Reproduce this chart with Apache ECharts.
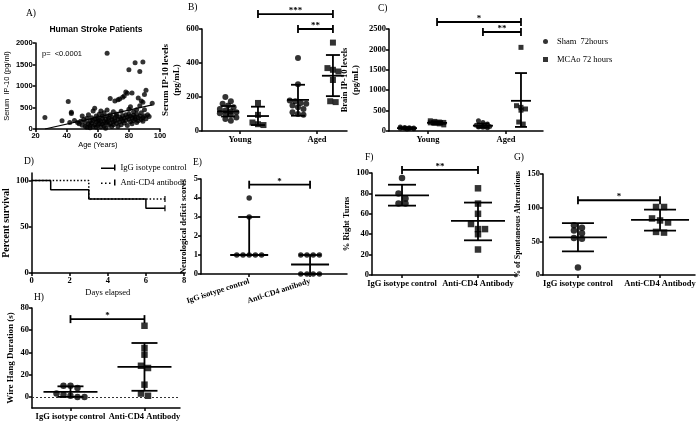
<!DOCTYPE html>
<html><head><meta charset="utf-8">
<script src="https://cdn.jsdelivr.net/npm/echarts@6/dist/echarts.min.js"></script>
<style>html,body{margin:0;padding:0;background:#fff}#c{width:700px;height:425px}</style>
</head><body><div id="c"></div>
<script>
// ---------- DATA ----------
// A) Human stroke patients: age vs serum IP-10
const ageYears = [26,37,41,42,43,43,45,47,48,49,50,50,51,52,52,53,53,54,54,55,55,55,56,56,57,57,57,58,58,58,59,59,59,60,60,60,61,61,61,62,62,62,63,63,63,64,64,64,65,65,65,66,66,66,66,67,67,67,68,68,68,69,69,69,70,70,70,71,71,71,72,72,72,73,73,73,74,74,74,75,75,75,76,76,76,77,77,77,78,78,78,79,79,79,80,80,80,80,81,81,81,82,82,82,83,83,83,84,84,84,85,85,85,86,86,86,87,87,87,88,88,88,89,89,89,89,90,90,90,91,91,92,93,95];
const serumIP10 = [270,190,640,150,390,360,200,150,120,180,300,90,220,60,150,250,40,120,330,180,80,30,260,140,200,60,420,480,100,230,160,300,40,190,260,80,120,350,210,420,50,170,250,300,110,180,70,380,230,140,20,1760,300,160,440,90,250,200,130,330,710,60,220,280,170,400,100,260,190,650,300,130,350,680,220,60,700,280,160,240,410,100,740,310,190,770,250,140,860,330,200,830,280,80,1380,350,230,460,170,300,520,840,260,120,400,200,320,1540,280,230,450,150,350,720,260,190,1340,300,540,650,220,380,1560,620,270,180,800,300,450,900,240,330,290,600];
const trendAge = [26, 95];
const trendIP10 = [0, 560];
const axisA_x = {min:20, max:100, step:20};
const axisA_y = {min:0, max:2000, step:500};

// B) Serum IP-10 (pg/mL), Young / Aged, Sham vs MCAo
const ageGroups = ['Young', 'Aged'];
const legendNames = ['Sham  72hours', 'MCAo 72 hours'];
const bYoungSham = [200,175,160,150,140,130,120,115,110,105,100,95,80,70,60];
const bYoungMCAo = [165,95,50,40,35];
const bAgedSham = [430,275,180,175,165,160,150,140,130,110,100,95];
const bAgedMCAo = [520,370,360,350,300,175,170];
const bCenter = [115, 88, 183, 325];
const bLow = [85, 35, 90, 205];
const bHigh = [147, 143, 272, 447];
const bSig = ['***', '**'];

// C) Brain IP-10 (pg/mL)
const cYoungSham = [95,85,80,75,70,65,60,55,50];
const cYoungMCAo = [250,235,220,210,200,190,175,150];
const cAgedSham = [250,210,170,140,130,120,110,100,90,80];
const cAgedMCAo = [2050,620,580,540,510,220,170];
const cCenter = [70, 200, 130, 740];
const cLow = [50, 160, 80, 100];
const cHigh = [90, 240, 185, 1420];
const cSig = ['*', '**'];

// D) Survival
const survNames = ['IgG isotype control', 'Anti-CD4 antibody'];
const iggDays = [0, 1, 3, 6, 7];
const iggSurvival = [100, 90, 80, 70, 70];
const cd4Days = [0, 3, 7];
const cd4Survival = [100, 80, 80];

// E-H) treatment groups
const treatLower = ['IgG isotype control', 'Anti-CD4 antibody'];
const treatUpper = ['IgG isotype control', 'Anti-CD4 Antibody'];
const eIgG = [4,3,1,1,1,1,1];
const eAnti = [1,1,1,1,0,0,0,0];
const eCenter = [1, 0.5], eLow = [1, 0], eHigh = [3, 1];
const fIgG = [95,80,75,70,70];
const fAnti = [85,70,60,50,45,45,40,25];
const fCenter = [78, 53], fLow = [68, 34], fHigh = [88.5, 71];
const gIgG = [74,70,66,62,55,54,11];
const gAnti = [101,101,84,81,78,64,63];
const gCenter = [56, 82], gLow = [35, 66], gHigh = [77, 97];
const hIgG = [10,10,8,3,2,1,0,0];
const hAnti = [64,44,38,28,26,11,3,1];
const hCenter = [4.5, 27], hLow = [0, 5.5], hHigh = [9.5, 48.5];

// ---------- LAYOUT / STYLE ----------
const SERIF = '"Liberation Serif","Times New Roman",serif';
const SANS = '"Liberation Sans",Arial,sans-serif';
const grids = [], xAxes = [], yAxes = [], series = [];
const plain = v => String(v);

function addGrid(b){ grids.push({left:b[0], top:b[1], width:b[2], height:b[3]}); return grids.length - 1; }
const lineSt = {color:'#000', width:1.5};

function yAxisOpt(gi, o){
  return {
    gridIndex: gi, type:'value', min:o.yMin, max:o.yMax, interval:o.yInterval,
    name:o.yName, nameLocation:'middle', nameGap:o.nameGap, nameRotate:90,
    nameTextStyle:{fontFamily:o.nameFont||SERIF, fontWeight:o.nameWeight||'bold', fontSize:o.nameSize||8.5, color:'#000', lineHeight:o.nameLH||11},
    axisLine:{show:true, onZero:false, lineStyle:lineSt},
    axisTick:{show:true, length:3, lineStyle:lineSt, customValues:o.yTicks},
    axisLabel:{color:'#000', fontFamily:o.font||SERIF, fontWeight:'bold', fontSize:o.labelSize||8.5, margin:3, customValues:o.yTicks, formatter:plain},
    splitLine:{show:false}
  };
}

// spread overlapping points sideways (GraphPad-style scatter dot plot)
function jitter(values, pxPerUnit, size, spacing, maxRow){
  const order = values.map((v,i)=>i).sort((a,b)=>values[b]-values[a]);
  const offs = new Array(values.length).fill(0);
  let cluster = [], anchor = null;
  const flush = () => cluster.forEach((k,j)=>{ offs[k] = (j - (cluster.length-1)/2) * spacing; });
  order.forEach(k => {
    if (anchor !== null && cluster.length < maxRow && (anchor - values[k]) * pxPerUnit < size * 0.8) cluster.push(k);
    else { flush(); cluster = [k]; anchor = values[k]; }
  });
  flush();
  return offs;
}

function dotPanel(o){
  const gi = addGrid(o.box);
  const labelPos = o.labelPos, labels = o.labels;
  xAxes.push({
    gridIndex: gi, type:'value', min:0, max:1,
    axisLine:{show:true, onZero:false, lineStyle:lineSt},
    axisTick:{show:true, length:3, lineStyle:lineSt, customValues:labelPos},
    axisLabel:{customValues:labelPos, color:'#000', fontFamily:SERIF, fontWeight:'bold', fontSize:o.xLabelSize||8.5,
      margin:o.xMargin||4, rotate:o.rotate||0,
      formatter: v => { const i = labelPos.findIndex(p => Math.abs(p - v) < 1e-6); return i >= 0 ? labels[i] : ''; }},
    splitLine:{show:false}
  });
  yAxes.push(yAxisOpt(gi, o));
  const pxPerUnit = o.box[3] / (o.yMax - o.yMin);
  o.groups.forEach(g => {
    const offs = jitter(g.values, pxPerUnit, o.size, o.spacing, o.maxRow || 4);
    series.push({
      type:'scatter', name:g.name, xAxisIndex:gi, yAxisIndex:gi, symbol:g.symbol, symbolSize:o.size,
      itemStyle:{color:'#000'}, silent:true, z:4,
      data: g.values.map((v,i)=>({value:[g.pos, v], symbolOffset:[offs[i], 0]}))
    });
  });
  const H = o.half, C = o.cap;
  series.push({
    type:'custom', xAxisIndex:gi, yAxisIndex:gi, clip:false, silent:true, z:5,
    data: o.groups.map((g,i)=>[g.pos, o.center[i], o.low[i], o.high[i]]),
    renderItem: (p, api) => {
      const c = api.coord([api.value(0), api.value(1)]);
      const lo = api.coord([api.value(0), api.value(2)]);
      const hi = api.coord([api.value(0), api.value(3)]);
      const st = {stroke:'#000', lineWidth:1.8};
      return {type:'group', children:[
        {type:'line', shape:{x1:c[0]-H, y1:c[1], x2:c[0]+H, y2:c[1]}, style:st},
        {type:'line', shape:{x1:c[0], y1:lo[1], x2:c[0], y2:hi[1]}, style:st},
        {type:'line', shape:{x1:c[0]-C, y1:lo[1], x2:c[0]+C, y2:lo[1]}, style:st},
        {type:'line', shape:{x1:c[0]-C, y1:hi[1], x2:c[0]+C, y2:hi[1]}, style:st}
      ]};
    }
  });
  if (o.brackets){
    series.push({
      type:'custom', xAxisIndex:gi, yAxisIndex:gi, clip:false, silent:true, z:5,
      data: o.brackets.map(b=>[b.from, b.to, b.y]),
      renderItem: (p, api) => {
        const a = api.coord([api.value(0), api.value(2)]);
        const b = api.coord([api.value(1), api.value(2)]);
        const st = {stroke:'#000', lineWidth:1.8};
        return {type:'group', children:[
          {type:'line', shape:{x1:a[0], y1:a[1], x2:b[0], y2:b[1]}, style:st},
          {type:'line', shape:{x1:a[0], y1:a[1]-4, x2:a[0], y2:a[1]+4}, style:st},
          {type:'line', shape:{x1:b[0], y1:b[1]-4, x2:b[0], y2:b[1]+4}, style:st},
          {type:'text', x:(a[0]+b[0])/2, y:a[1]+1, style:{text:o.brackets[p.dataIndex].text, fill:'#000',
            font:'bold 9px ' + SERIF, align:'center', verticalAlign:'bottom'}}
        ]};
      }
    });
  }
}

// ---- Panel A ----
(function(){
  const gi = addGrid([32, 43, 128, 86]);
  xAxes.push({gridIndex:gi, type:'value', min:axisA_x.min, max:axisA_x.max, interval:axisA_x.step,
    name:'Age (Years)', nameLocation:'middle', nameGap:11,
    nameTextStyle:{fontFamily:SANS, fontSize:7.5, color:'#000'},
    axisLine:{show:true, onZero:false, lineStyle:lineSt},
    axisTick:{show:true, length:3, lineStyle:lineSt},
    axisLabel:{color:'#000', fontFamily:SANS, fontWeight:'bold', fontSize:7.5, margin:3, formatter:plain},
    splitLine:{show:false}});
  yAxes.push(yAxisOpt(gi, {yMin:axisA_y.min, yMax:axisA_y.max, yInterval:axisA_y.step, yName:'Serum  IP-10 (pg/ml)',
    nameGap:20, nameFont:SANS, nameWeight:'normal', nameSize:7.5, font:SANS, labelSize:7.5}));
  series.push({type:'scatter', xAxisIndex:gi, yAxisIndex:gi, symbolSize:5, itemStyle:{color:'#000'}, silent:true,
    data: ageYears.map((a,i)=>[a, serumIP10[i]])});
  series.push({type:'line', xAxisIndex:gi, yAxisIndex:gi, symbol:'none', silent:true, lineStyle:{color:'#000', width:1.2},
    data: trendAge.map((a,i)=>[a, trendIP10[i]])});
})();

// ---- Panel B ----
dotPanel({box:[202, 29, 145, 102], yMin:0, yMax:600, yInterval:200, yName:'Serum IP-10 levels\n(pg/mL)', nameGap:13, nameSize:9,
  labels:ageGroups, labelPos:[0.262, 0.793], size:6, spacing:5.5, maxRow:4, half:11, cap:7,
  groups:[
    {values:bYoungSham, pos:0.18, symbol:'circle', name:legendNames[0]},
    {values:bYoungMCAo, pos:0.386, symbol:'rect', name:legendNames[1]},
    {values:bAgedSham, pos:0.662, symbol:'circle', name:legendNames[0]},
    {values:bAgedMCAo, pos:0.903, symbol:'rect', name:legendNames[1]}],
  center:bCenter, low:bLow, high:bHigh,
  brackets:[{from:0.386, to:0.903, y:688, text:bSig[0]}, {from:0.662, to:0.903, y:600, text:bSig[1]}]});

// ---- Panel C ----
dotPanel({box:[389, 29, 154, 102], yMin:0, yMax:2500, yInterval:500, yName:'Brain IP-10 levels\n(pg/mL)', nameGap:28, nameSize:8.5,
  labels:ageGroups, labelPos:[0.253, 0.76], size:5, spacing:4.5, maxRow:4, half:10, cap:6,
  groups:[
    {values:cYoungSham, pos:0.117, symbol:'circle', name:legendNames[0]},
    {values:cYoungMCAo, pos:0.312, symbol:'rect', name:legendNames[1]},
    {values:cAgedSham, pos:0.61, symbol:'circle', name:legendNames[0]},
    {values:cAgedMCAo, pos:0.857, symbol:'rect', name:legendNames[1]}],
  center:cCenter, low:cLow, high:cHigh,
  brackets:[{from:0.312, to:0.857, y:2671, text:cSig[0]}, {from:0.61, to:0.857, y:2426, text:cSig[1]}]});

// ---- Panel D ----
(function(){
  const gi = addGrid([31, 173, 153, 100]);
  xAxes.push({gridIndex:gi, type:'value', min:0, max:8, interval:2,
    name:'Days elapsed', nameLocation:'middle', nameGap:15,
    nameTextStyle:{fontFamily:SERIF, fontSize:8.5, color:'#000'},
    axisLine:{show:true, onZero:false, lineStyle:lineSt},
    axisTick:{show:true, length:3, lineStyle:lineSt},
    axisLabel:{color:'#000', fontFamily:SERIF, fontWeight:'bold', fontSize:8.5, margin:3},
    splitLine:{show:false}});
  yAxes.push(yAxisOpt(gi, {yMin:0, yMax:108, yTicks:[0,50,100], yName:'Percent survival', nameGap:18, nameSize:10}));
  series.push({type:'line', name:survNames[0], xAxisIndex:gi, yAxisIndex:gi, step:'end', symbol:'none', silent:true,
    lineStyle:{color:'#000', width:1.5, type:'solid'}, itemStyle:{color:'#000'},
    data: iggDays.map((d,i)=>[d, iggSurvival[i]])});
  series.push({type:'line', name:survNames[1], xAxisIndex:gi, yAxisIndex:gi, step:'end', symbol:'none', silent:true, z:1,
    lineStyle:{color:'#000', width:1.5, type:[1.5,2]}, itemStyle:{color:'#000'},
    data: cd4Days.map((d,i)=>[d, cd4Survival[i]])});
  series.push({type:'scatter', xAxisIndex:gi, yAxisIndex:gi, symbol:'rect', symbolSize:[1.5,6], silent:true, itemStyle:{color:'#000'},
    data:[[iggDays[iggDays.length-1], iggSurvival[iggSurvival.length-1]], [cd4Days[cd4Days.length-1], cd4Survival[cd4Survival.length-1]]]});
})();

// ---- Panel E ----
dotPanel({box:[201, 179, 146, 95], yMin:0, yMax:5, yInterval:1, yName:'Neurological deficit scores', nameGap:12, nameSize:8.5,
  labels:treatLower, labelPos:[0.33, 0.747], rotate:18, xLabelSize:8, xMargin:7, size:5.5, spacing:6.2, maxRow:5, half:19, cap:11,
  groups:[{values:eIgG, pos:0.33, symbol:'circle'}, {values:eAnti, pos:0.747, symbol:'circle'}],
  center:eCenter, low:eLow, high:eHigh,
  brackets:[{from:0.33, to:0.747, y:4.7, text:'*'}]});

// ---- Panel F ----
dotPanel({box:[372, 173, 145, 102], yMin:0, yMax:100, yInterval:20, yName:'% Right Turns', nameGap:20, nameSize:8.5,
  labels:treatUpper, labelPos:[0.207, 0.731], size:6.5, spacing:7, maxRow:3, half:27, cap:14,
  groups:[{values:fIgG, pos:0.207, symbol:'circle'}, {values:fAnti, pos:0.731, symbol:'rect'}],
  center:fCenter, low:fLow, high:fHigh,
  brackets:[{from:0.207, to:0.731, y:103, text:'**'}]});

// ---- Panel G ----
dotPanel({box:[543, 174, 152, 101], yMin:0, yMax:150, yInterval:50, yName:'% of Spontaneous Alternations', nameGap:20, nameSize:8,
  labels:treatUpper, labelPos:[0.23, 0.77], size:6.5, spacing:8, maxRow:3, half:29, cap:16,
  groups:[{values:gIgG, pos:0.23, symbol:'circle'}, {values:gAnti, pos:0.77, symbol:'rect'}],
  center:gCenter, low:gLow, high:gHigh,
  brackets:[{from:0.23, to:0.77, y:111, text:'*'}]});

// ---- Panel H ----
dotPanel({box:[32, 308, 148, 100], yMin:-10, yMax:80, yTicks:[0,20,40,60,80], yName:'Wire Hang Duration (s)', nameGap:16, nameSize:9,
  labels:treatUpper, labelPos:[0.26, 0.76], size:6.5, spacing:7, maxRow:5, half:27, cap:13,
  groups:[{values:hIgG, pos:0.26, symbol:'circle'}, {values:hAnti, pos:0.76, symbol:'rect'}],
  center:hCenter, low:hLow, high:hHigh,
  brackets:[{from:0.26, to:0.76, y:70, text:'*'}]});
series[series.length-4].markLine = {silent:true, symbol:'none', label:{show:false},
  lineStyle:{color:'#333', type:[2,2], width:1}, data:[{yAxis:0}]};

// ---------- TEXT ----------
function txt(x, y, text, font, align){ return {type:'text', x:x, y:y, style:{text:text, font:font, fill:'#000', align:align||'left', verticalAlign:'middle'}}; }
const panelFont = '9.5px ' + SERIF;
const graphic = [
  txt(26, 13, 'A)', panelFont), txt(188, 7, 'B)', panelFont), txt(378, 8, 'C)', panelFont),
  txt(24, 161, 'D)', panelFont), txt(193, 162, 'E)', panelFont), txt(365, 157, 'F)', panelFont),
  txt(514, 157, 'G)', panelFont), txt(34, 297, 'H)', panelFont),
  txt(96, 30, 'Human Stroke Patients', 'bold 8.5px ' + SANS, 'center'),
  txt(42, 54, 'p=  <0.0001', '7.5px ' + SANS)
];

const iconSolid = 'path://M0,3h14v1.5h-14z M13,0h1.5v6h-1.5z';
const iconDotted = 'path://M0,3h1.5v1.5h-1.5z M4,3h1.5v1.5h-1.5z M8,3h1.5v1.5h-1.5z M13,0h1.5v6h-1.5z';

const chart = echarts.init(document.getElementById('c'), null, {renderer:'canvas'});
chart.setOption({
  animation:false, backgroundColor:'#fff',
  grid:grids, xAxis:xAxes, yAxis:yAxes, series:series, graphic:graphic,
  legend:[
    {data:[{name:legendNames[0], icon:'circle'}, {name:legendNames[1], icon:'rect'}], orient:'vertical', left:538, top:32,
      itemWidth:5, itemHeight:5, itemGap:9, selectedMode:false, textStyle:{fontFamily:SERIF, fontSize:8.5, color:'#000', padding:[0,0,0,4]}},
    {data:[{name:survNames[0], icon:iconSolid}, {name:survNames[1], icon:iconDotted}], orient:'vertical', left:96, top:158,
      itemWidth:14.5, itemHeight:6, itemGap:6, selectedMode:false,
      textStyle:{fontFamily:SERIF, fontSize:8.5, color:'#000'}}
  ]
});
</script></body></html>
